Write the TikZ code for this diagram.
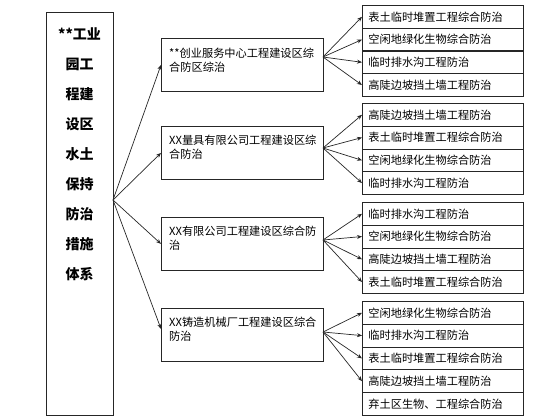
\documentclass[tikz,border=0pt]{standalone}
\usepackage{fontspec}
\newfontfamily\cjk{Noto Sans CJK SC}
\usetikzlibrary{arrows.meta}
\begin{document}
\begin{tikzpicture}[x=1pt,y=-1pt,
  box/.style={draw=black!85, line width=0.8pt, inner sep=0pt},
  arr/.style={draw=black!85, line width=0.7pt, -{Stealth[length=5pt,width=4pt]}},
  rowbox/.style={box, minimum height=22.8pt, anchor=north west, inner xsep=6pt,
    text width=149pt, align=left, font=\cjk\fontsize{11.2}{13}\selectfont},
  midbox/.style={box, minimum width=162pt, minimum height=53pt, anchor=north west},
  midtext/.style={anchor=north west, inner sep=0pt, align=left,
    font=\cjk\fontsize{11.2}{14}\selectfont},
  lefttext/.style={anchor=north, inner sep=0pt, align=center,
    font=\cjk\bfseries\fontsize{14}{30}\selectfont}
]
\useasboundingbox (0,0) rectangle (560,420);

% left box
\node[box, minimum width=67pt, minimum height=403pt, anchor=north west] (L) at (46,12) {};
\node[lefttext] (Lt) at (79.5,27) {**工业\\园工\\程建\\设区\\水土\\保持\\防治\\措施\\体系};
\coordinate (Lo) at (113,200);

% middle boxes
\node[midbox] (m1) at (161,38) {};
\node[midtext] (m1t) at (169,48) {**创业服务中心工程建设区综\\合防区综治};
\node[midbox] (m2) at (161,126) {};
\node[midtext] (m2t) at (169,135) {XX量具有限公司工程建设区综\\合防治};
\node[midbox] (m3) at (161,217) {};
\node[midtext] (m3t) at (169,226) {XX有限公司工程建设区综合防\\治};
\node[midbox] (m4) at (161,308) {};
\node[midtext] (m4t) at (169,317) {XX铸造机械厂工程建设区综合\\防治};

\coordinate (o1) at (323,57);
\coordinate (o2) at (323,148);
\coordinate (o3) at (323,240);
\coordinate (o4) at (323,332);

% right rows group 1
\node[rowbox] (r11) at (362,5) {表土临时堆置工程综合防治};
\node[rowbox] (r12) at (362,27.75) {空闲地绿化生物综合防治};
\node[rowbox] (r13) at (362,50.5) {临时排水沟工程防治};
\node[rowbox] (r14) at (362,73.25) {高陡边坡挡土墙工程防治};
% group 2
\node[rowbox] (r21) at (362,103) {高陡边坡挡土墙工程防治};
\node[rowbox] (r22) at (362,125.75) {表土临时堆置工程综合防治};
\node[rowbox] (r23) at (362,148.5) {空闲地绿化生物综合防治};
\node[rowbox] (r24) at (362,171.25) {临时排水沟工程防治};
% group 3
\node[rowbox] (r31) at (362,202) {临时排水沟工程防治};
\node[rowbox] (r32) at (362,224.75) {空闲地绿化生物综合防治};
\node[rowbox] (r33) at (362,247.5) {高陡边坡挡土墙工程防治};
\node[rowbox] (r34) at (362,270.25) {表土临时堆置工程综合防治};
% group 4
\node[rowbox] (r41) at (362,301) {空闲地绿化生物综合防治};
\node[rowbox] (r42) at (362,323.8) {临时排水沟工程防治};
\node[rowbox] (r43) at (362,346.6) {表土临时堆置工程综合防治};
\node[rowbox] (r44) at (362,369.4) {高陡边坡挡土墙工程防治};
\node[rowbox] (r45) at (362,392.2) {弃土区生物、工程综合防治};

% arrows left -> middle
\foreach \m in {m1,m2,m3} \draw[arr] (Lo) -- (\m.west);
\draw[arr] (Lo) -- ([yshift=6pt]m4.west);

% arrows middle -> rows
\foreach \r in {r11,r12,r13,r14} \draw[arr] (o1) -- (\r.west);
\foreach \r in {r21,r22,r23,r24} \draw[arr] (o2) -- (\r.west);
\foreach \r in {r31,r32,r33,r34} \draw[arr] (o3) -- (\r.west);
\foreach \r in {r41,r42,r43,r44} \draw[arr] (o4) -- (\r.west);
\end{tikzpicture}
\end{document}
